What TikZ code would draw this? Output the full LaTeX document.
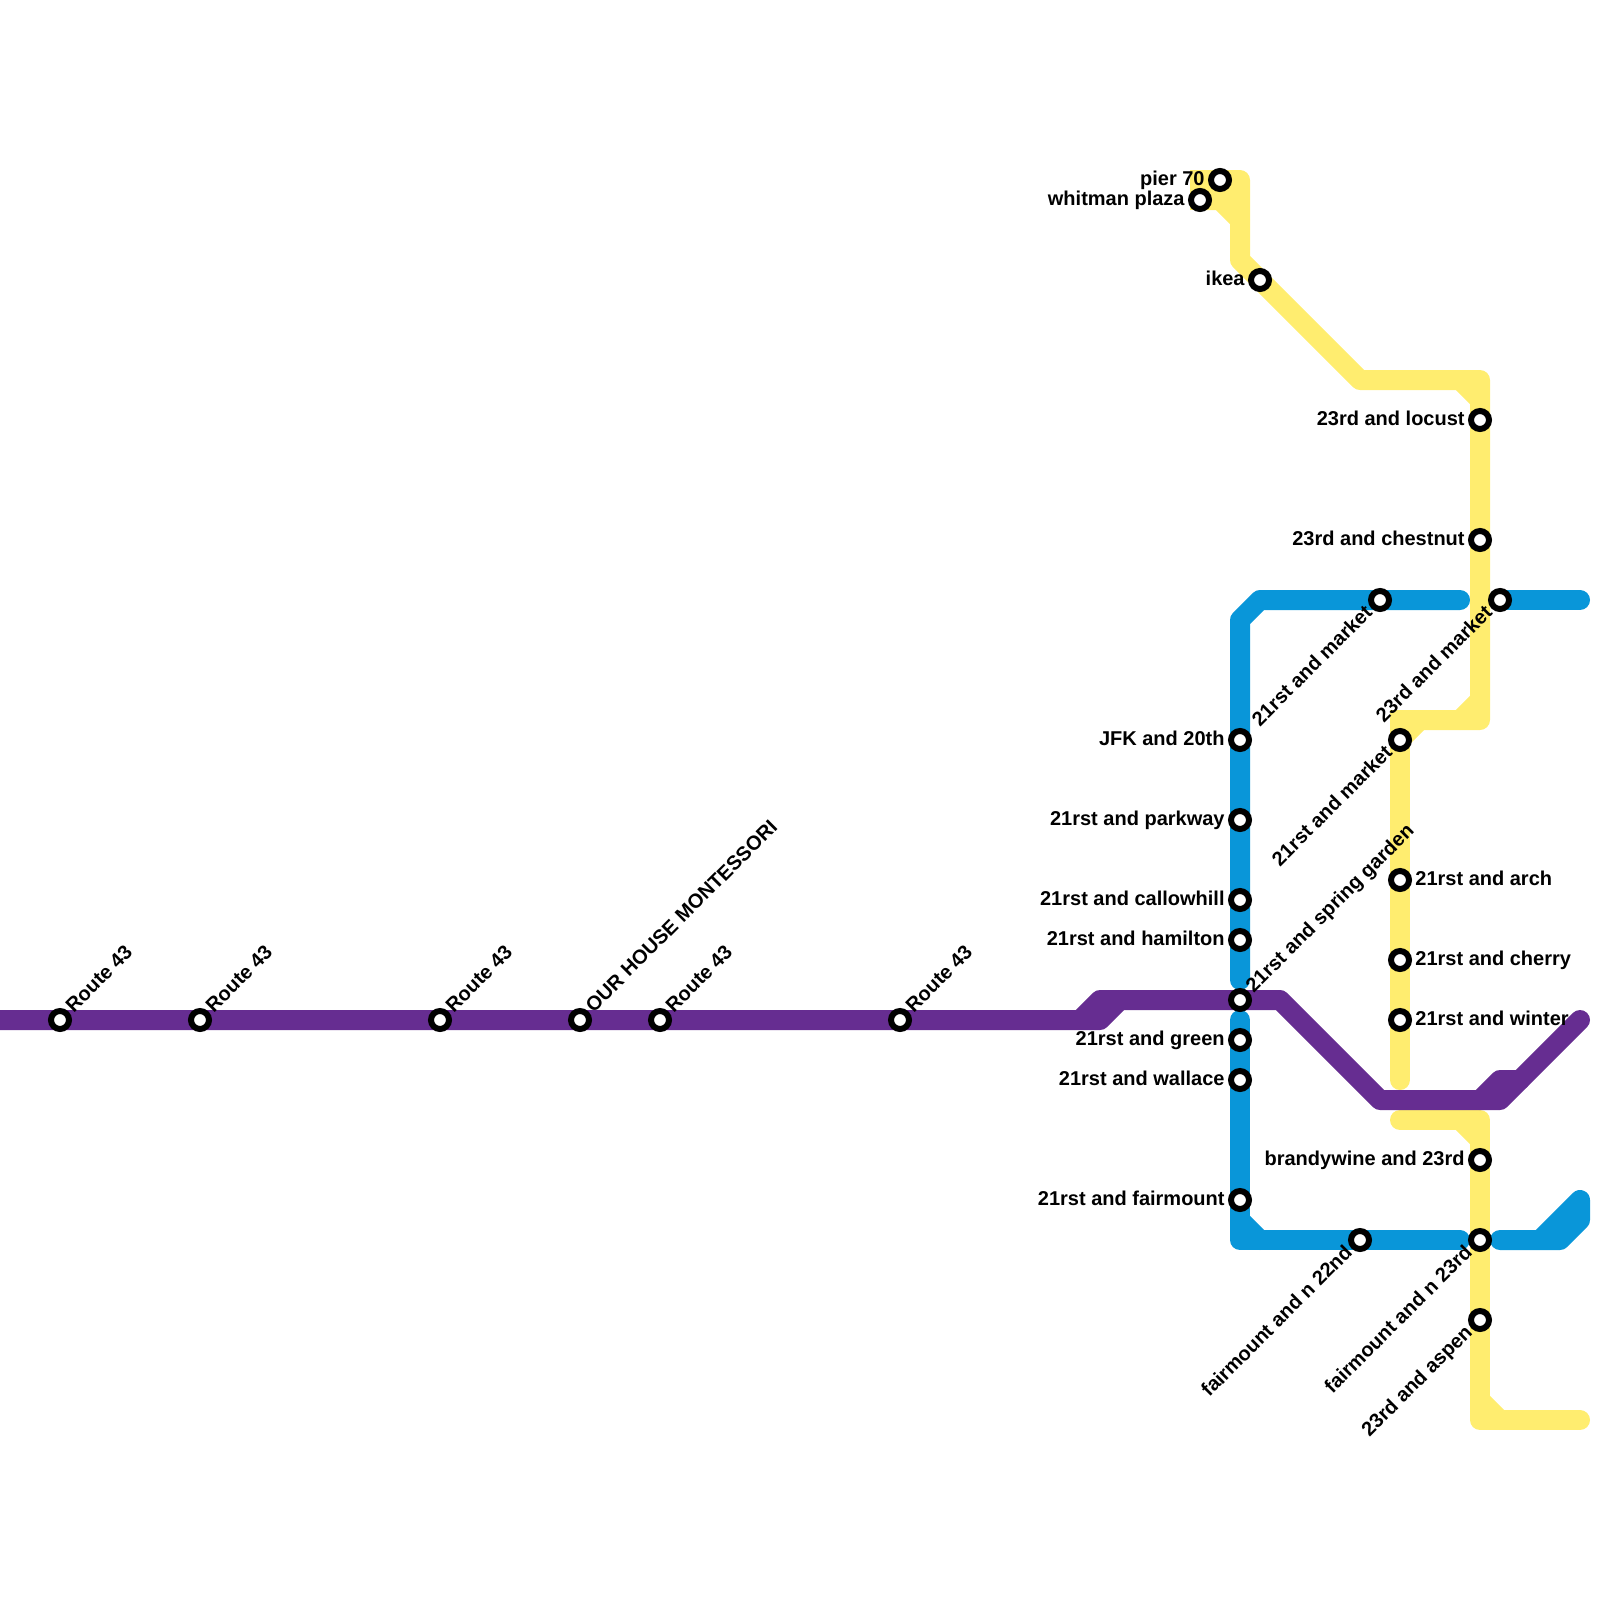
\documentclass[tikz,border=0pt]{standalone}
\usepackage{fontspec}
\setmainfont{Liberation Sans}
\usetikzlibrary{positioning,backgrounds}
\definecolor{metropurple}{RGB}{102, 45, 145}
\definecolor{metroblue}{RGB}{9, 150, 217}
\definecolor{metroyellow}{RGB}{255, 237, 111}
\tikzstyle{stop} = [circle, draw=black, line width=3pt, fill=white, inner sep=0pt, minimum size=9pt]
\tikzstyle{textonly} = [draw=none, fill=none, inner sep=0pt, text=black, font=\bfseries\fontsize{10}{11}\selectfont, text height=7pt, text depth=2pt]
\tikzstyle{sidetext} = [textonly]
\tikzstyle{risetext} = [textonly, rotate=45, anchor=west]
\tikzstyle{falltext} = [textonly, rotate=45, anchor=east]
\tikzstyle{purpleline} = [draw=metropurple, line width=10pt, line cap=round, line join=round]
\tikzstyle{blueline} = [draw=metroblue, line width=10pt, line cap=round, line join=round]
\tikzstyle{yellowline} = [draw=metroyellow, line width=10pt, line cap=round, line join=round]
\begin{document}
\begin{tikzpicture}[x=0.5pt, y=-0.5pt]
\useasboundingbox (0,0) rectangle (1600,1600);

% stops ==================================

% purple
\node[stop] (route1) at (60,1020) {};
\node[stop] (route2) at (200,1020) {};
\node[stop] (route3) at (440,1020) {};
\node[stop] (school) at (580,1020) {};
\node[stop] (route4) at (660,1020) {};
\node[stop] (route5) at (900,1020) {};

% blue
\node[stop] (jfk) at (1240,740) {};
\node[stop] (parkway) at (1240,820) {};
\node[stop] (callowhill) at (1240,900) {};
\node[stop] (hamilton) at (1240,940) {};
\node[stop] (spring) at (1240,1000) {};
\node[stop] (green) at (1240,1040) {};
\node[stop] (wallace) at (1240,1080) {};
\node[stop] (fairmount) at (1240,1200) {};
\node[stop] (market21a) at (1380,600) {};
\node[stop] (market23) at (1500,600) {};
\node[stop] (fair22) at (1360,1240) {};

% yellow
\node[stop] (pier) at (1220,180) {};
\node[stop] (whitman) at (1200,200) {};
\node[stop] (ikea) at (1260,280) {};
\node[stop] (locust) at (1480,420) {};
\node[stop] (chestnut) at (1480,540) {};
\node[stop] (market21b) at (1400,740) {};
\node[stop] (arch) at (1400,880) {};
\node[stop] (cherry) at (1400,960) {};
\node[stop] (winter) at (1400,1020) {};
\node[stop] (brandywine) at (1480,1160) {};
\node[stop] (fair23) at (1480,1240) {};
\node[stop] (aspen) at (1480,1320) {};

% labels =================================

\node[risetext] (lroute1) at ([shift={(10,-10)}]route1.center) {Route 43};
\node[risetext] (lroute2) at ([shift={(10,-10)}]route2.center) {Route 43};
\node[risetext] (lroute3) at ([shift={(10,-10)}]route3.center) {Route 43};
\node[risetext] (lschool) at ([shift={(10,-10)}]school.center) {OUR HOUSE MONTESSORI};
\node[risetext] (lroute4) at ([shift={(10,-10)}]route4.center) {Route 43};
\node[risetext] (lroute5) at ([shift={(10,-10)}]route5.center) {Route 43};
\node[risetext] (lspring) at ([shift={(10,-10)}]spring.center) {21rst and spring garden};

\node[falltext] (lmarket21a) at ([shift={(-10,10)}]market21a.center) {21rst and market};
\node[falltext] (lmarket23) at ([shift={(-10,10)}]market23.center) {23rd and market};
\node[falltext] (lmarket21b) at ([shift={(-10,10)}]market21b.center) {21rst and market};
\node[falltext] (lfair22) at ([shift={(-10,10)}]fair22.center) {fairmount and n 22nd};
\node[falltext] (lfair23) at ([shift={(-10,10)}]fair23.center) {fairmount and n 23rd};
\node[falltext] (laspen) at ([shift={(-10,10)}]aspen.center) {23rd and aspen};

\node[sidetext, left=1.5pt of pier] (lpier) {pier 70};
\node[sidetext, left=1.5pt of whitman] (lwhitman) {whitman plaza};
\node[sidetext, left=1.5pt of ikea] (likea) {ikea};
\node[sidetext, left=1.5pt of locust] (llocust) {23rd and locust};
\node[sidetext, left=1.5pt of chestnut] (lchestnut) {23rd and chestnut};
\node[sidetext, left=1.5pt of jfk] (ljfk) {JFK and 20th};
\node[sidetext, left=1.5pt of parkway] (lparkway) {21rst and parkway};
\node[sidetext, left=1.5pt of callowhill] (lcallowhill) {21rst and callowhill};
\node[sidetext, left=1.5pt of hamilton] (lhamilton) {21rst and hamilton};
\node[sidetext, left=1.5pt of green] (lgreen) {21rst and green};
\node[sidetext, left=1.5pt of wallace] (lwallace) {21rst and wallace};
\node[sidetext, left=1.5pt of fairmount] (lfairmount) {21rst and fairmount};
\node[sidetext, left=1.5pt of brandywine] (lbrandywine) {brandywine and 23rd};
\node[sidetext, right=1.5pt of arch] (larch) {21rst and arch};
\node[sidetext, right=1.5pt of cherry] (lcherry) {21rst and cherry};
\node[sidetext, right=1.5pt of winter] (lwinter) {21rst and winter};

% bends ==================================

\coordinate (pwest) at (0,1020);
\coordinate (pa) at (1080,1020);
\coordinate (pb) at (1100,1020);
\coordinate (pc) at (1100,1000);
\coordinate (pd) at (1120,1000);
\coordinate (pe) at (1280,1000);
\coordinate (pf) at (1380,1100);
\coordinate (pg) at (1480,1100);
\coordinate (ph) at (1500,1100);
\coordinate (pi) at (1500,1080);
\coordinate (pj) at (1520,1080);
\coordinate (pk) at (1580,1020);

\coordinate (ba) at (1240,620);
\coordinate (bb) at (1260,600);
\coordinate (bc) at (1460,600);
\coordinate (bd) at (1580,600);
\coordinate (be) at (1240,980);
\coordinate (bf) at (1240,1020);
\coordinate (bg) at (1240,1220);
\coordinate (bh) at (1240,1240);
\coordinate (bi) at (1260,1240);
\coordinate (bj) at (1460,1240);
\coordinate (bk) at (1500,1240);
\coordinate (bl) at (1540,1240);
\coordinate (bm) at (1560,1240);
\coordinate (bn) at (1580,1220);
\coordinate (bo) at (1580,1200);

\coordinate (ya) at (1240,180);
\coordinate (yb) at (1220,200);
\coordinate (yc) at (1240,220);
\coordinate (yd) at (1240,260);
\coordinate (ye) at (1360,380);
\coordinate (yf) at (1460,380);
\coordinate (yg) at (1480,380);
\coordinate (yh) at (1480,400);
\coordinate (yi) at (1480,700);
\coordinate (yj) at (1480,720);
\coordinate (yk) at (1460,720);
\coordinate (yl) at (1420,720);
\coordinate (ym) at (1400,720);
\coordinate (yn) at (1400,1080);
\coordinate (yo) at (1400,1120);
\coordinate (yp) at (1460,1120);
\coordinate (yq) at (1480,1120);
\coordinate (yr) at (1480,1140);
\coordinate (ys) at (1480,1400);
\coordinate (yt) at (1480,1420);
\coordinate (yu) at (1500,1420);
\coordinate (yv) at (1580,1420);
\coordinate (yw) at (1200,180);

% lines ==================================

\begin{scope}[on background layer]
% blue
\path[blueline] (be) -- (ba) -- (bb) -- (bc);
\path[blueline] (market23.center) -- (bd);
\path[blueline] (bf) -- (bh) -- (bj);
\path[blueline] (bg) -- (bi);
\path[blueline] (bk) -- (bm) -- (bn) -- (bo) -- (bl);

% yellow
\path[yellowline, line cap=rect] (yw) -- (whitman.center);
\path[yellowline] (yw) -- (ya) -- (yd) -- (ye) -- (yg) -- (yj) -- (yl);
\path[yellowline] (whitman.center) -- (yb) -- (yc);
\path[yellowline] (pier.center) -- (yb);
\path[yellowline] (yf) -- (yh);
\path[yellowline] (yk) -- (yi);
\path[yellowline, line cap=rect] (ym) -- (yl);
\path[yellowline] (ym) -- (yn);
\path[yellowline] (market21b.center) -- (yl);
\path[yellowline] (yo) -- (yq) -- (yt) -- (yv);
\path[yellowline] (yp) -- (yr);
\path[yellowline] (ys) -- (yu);

% purple
\path[purpleline] (pwest) -- (pb) -- (pd) -- (pc) -- (pa);
\path[purpleline] (pd) -- (pe) -- (pf) -- (ph) -- (pk);
\path[purpleline] (pg) -- (pi) -- (pj);
\end{scope}

\end{tikzpicture}
\end{document}
